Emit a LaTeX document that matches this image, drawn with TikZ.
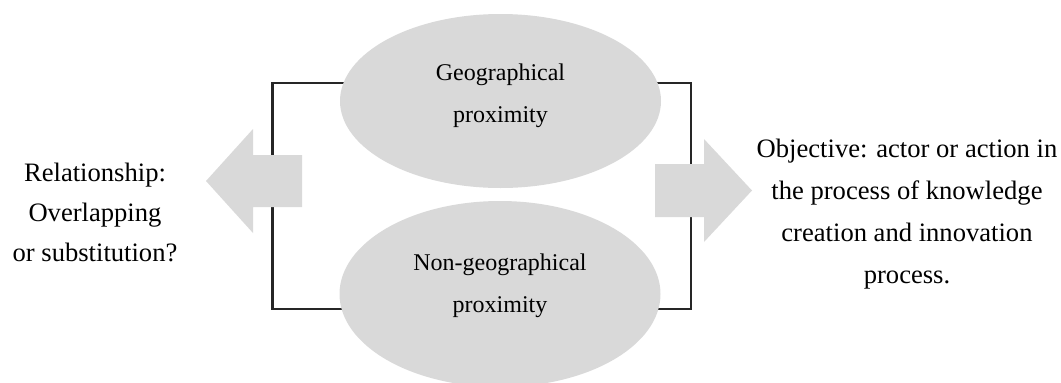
\documentclass[tikz,border=0pt]{standalone}
\usepackage{fontspec}
\setmainfont{Liberation Serif}
\usetikzlibrary{shapes.geometric}
\definecolor{shapegray}{HTML}{D9D9D9}
\definecolor{linegray}{HTML}{262626}
\begin{document}
\begin{tikzpicture}[x=1pt,y=-1pt,
  blob/.style={ellipse, fill=shapegray, minimum width=321pt, minimum height=174pt, inner sep=0pt},
  intext/.style={align=center, font=\fontsize{24}{42}\selectfont, inner sep=0pt},
  sidetext/.style={align=center, font=\fontsize{26.6}{42}\selectfont, inner sep=0pt},
  bracket/.style={draw=linegray, line width=2.2pt},
  bigarrow/.style={fill=shapegray}]
\useasboundingbox (0,0) rectangle (1061,383);
% corners of the bracket
\coordinate (tl) at (272.5,83);
\coordinate (bl) at (272.5,309);
\coordinate (tr) at (691,83);
\coordinate (br) at (691,309);
\coordinate (topc) at (500.5,101);
\coordinate (botc) at (500,294);
% bracket lines
\draw[bracket] (topc |- tl) -- (tl) -- (bl) -- (botc |- bl);
\draw[bracket] (topc |- tr) -- (tr) -- (br) -- (botc |- br);
% ellipses
\node[blob] (geo) at (topc) {};
\node[blob, minimum height=186pt] (nongeo) at (botc) {};
\node[intext] (geotext) at (500.5,95.5) {Geographical\\proximity};
\node[intext] (nongeotext) at (500,285.5) {Non-geographical\\proximity};
% arrows
\fill[bigarrow] (302,155) -- (253,155) -- (253,129) -- (206,181) -- (253,233) -- (253,207) -- (302,207) -- cycle;
\fill[bigarrow] (655,164) -- (704,164) -- (704,139) -- (752,190.5) -- (704,242) -- (704,217) -- (655,217) -- cycle;
% side texts
\node[sidetext, font=\fontsize{26.6}{40}\selectfont] (rel) at (95,212) {Relationship:\\Overlapping\\or substitution?};
\node[sidetext] (obj) at (907,214) {Objective: actor or action in\\the process of knowledge\\creation and innovation\\process.};
\end{tikzpicture}
\end{document}
